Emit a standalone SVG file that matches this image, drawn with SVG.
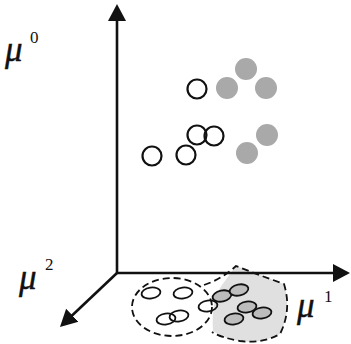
<svg xmlns="http://www.w3.org/2000/svg" width="351" height="344" viewBox="0 0 351 344">
  <style>
    .axis { stroke: #111; stroke-width: 2.6; fill: none; }
    .dash { stroke: #111; stroke-width: 1.8; fill: none; stroke-dasharray: 7 4; }
    .open { stroke: #111; stroke-width: 2.2; fill: none; }
    .full { fill: #a9a9a9; stroke: none; }
    .sopen { stroke: #111; stroke-width: 1.8; fill: none; }
    .sfull { stroke: #111; stroke-width: 1.8; fill: #bdbdbd; }
    .mu { font-family: "Liberation Serif", "Times New Roman", serif; font-style: italic; font-size: 35px; fill: #111; stroke: #111; stroke-width: 0.4; }
    .sup { font-family: "Liberation Serif", "Times New Roman", serif; font-size: 17px; fill: #111; }
  </style>
  <defs>
    <marker id="arrow" viewBox="0 -10 20 20" refX="8" refY="0" markerWidth="20" markerHeight="20" markerUnits="userSpaceOnUse" orient="auto">
      <path d="M0,-9 L17,0 L0,9 Z" fill="#111"/>
    </marker>
  </defs>
  <rect width="351" height="344" fill="#ffffff"/>

  <g id="region-grey">
    <path d="M236,266 L284,284 Q292,310 280,334 Q262,344 240,341 Q222,338 213,331 Q211,300 222,285 Z" fill="#e0e0e0"/>
    <path class="dash" d="M204,285 Q222,279 236,266 L262,276 L284,284 Q292,310 280,334 Q262,344 240,341 Q222,338 212,332"/>
  </g>
  <g id="region-left">
    <ellipse class="dash" cx="172" cy="307" rx="40" ry="29"/>
  </g>

  <g id="cluster-bottom">
    <ellipse class="sopen" cx="151" cy="293" rx="9.5" ry="5.5" transform="rotate(-8 151 293)"/>
    <ellipse class="sopen" cx="183" cy="293" rx="9.5" ry="5.5" transform="rotate(-8 183 293)"/>
    <ellipse class="sopen" cx="179" cy="316" rx="9.5" ry="5.5" transform="rotate(-8 179 316)"/>
    <ellipse class="sopen" cx="166" cy="319" rx="9.5" ry="5.5" transform="rotate(-8 166 319)"/>
    <ellipse class="sopen" cx="208" cy="306" rx="9.5" ry="5.5" transform="rotate(-8 208 306)"/>
    <ellipse class="sfull" cx="222" cy="296" rx="9.5" ry="5.5" transform="rotate(-12 222 296)"/>
    <ellipse class="sfull" cx="239" cy="290" rx="9.5" ry="5.5" transform="rotate(-12 239 290)"/>
    <ellipse class="sfull" cx="247" cy="307" rx="9.5" ry="5.5" transform="rotate(-8 247 307)"/>
    <ellipse class="sfull" cx="262" cy="313" rx="9.5" ry="5.5" transform="rotate(-8 262 313)"/>
    <ellipse class="sfull" cx="234" cy="319" rx="9.5" ry="5.5" transform="rotate(-8 234 319)"/>
  </g>

  <g id="cluster-open">
    <circle class="open" cx="197" cy="89" r="9.5"/>
    <circle class="open" cx="197" cy="135" r="9.5"/>
    <circle class="open" cx="214" cy="136" r="9.5"/>
    <circle class="open" cx="152" cy="156" r="9.5"/>
    <circle class="open" cx="186" cy="155" r="9.5"/>
  </g>

  <g id="cluster-grey">
    <circle class="full" cx="246" cy="69" r="11"/>
    <circle class="full" cx="227" cy="88" r="11"/>
    <circle class="full" cx="266" cy="88" r="11"/>
    <circle class="full" cx="267" cy="135" r="11"/>
    <circle class="full" cx="247" cy="153" r="11"/>
  </g>

  <g id="connectors">
    <line class="axis" x1="117" y1="273" x2="117" y2="13" marker-end="url(#arrow)"/>
    <line class="axis" x1="116" y1="273" x2="341" y2="273" marker-end="url(#arrow)"/>
    <line class="axis" x1="117" y1="273" x2="66.5" y2="320.8" marker-end="url(#arrow)"/>
  </g>

  <g id="label-mu0">
    <text class="mu" x="5" y="61">μ</text>
    <text class="sup" x="30" y="43">0</text>
  </g>
  <g id="label-mu1">
    <text class="mu" x="297" y="317">μ</text>
    <text class="sup" x="324" y="302">1</text>
  </g>
  <g id="label-mu2">
    <text class="mu" x="19" y="289">μ</text>
    <text class="sup" x="45" y="270">2</text>
  </g>
</svg>
